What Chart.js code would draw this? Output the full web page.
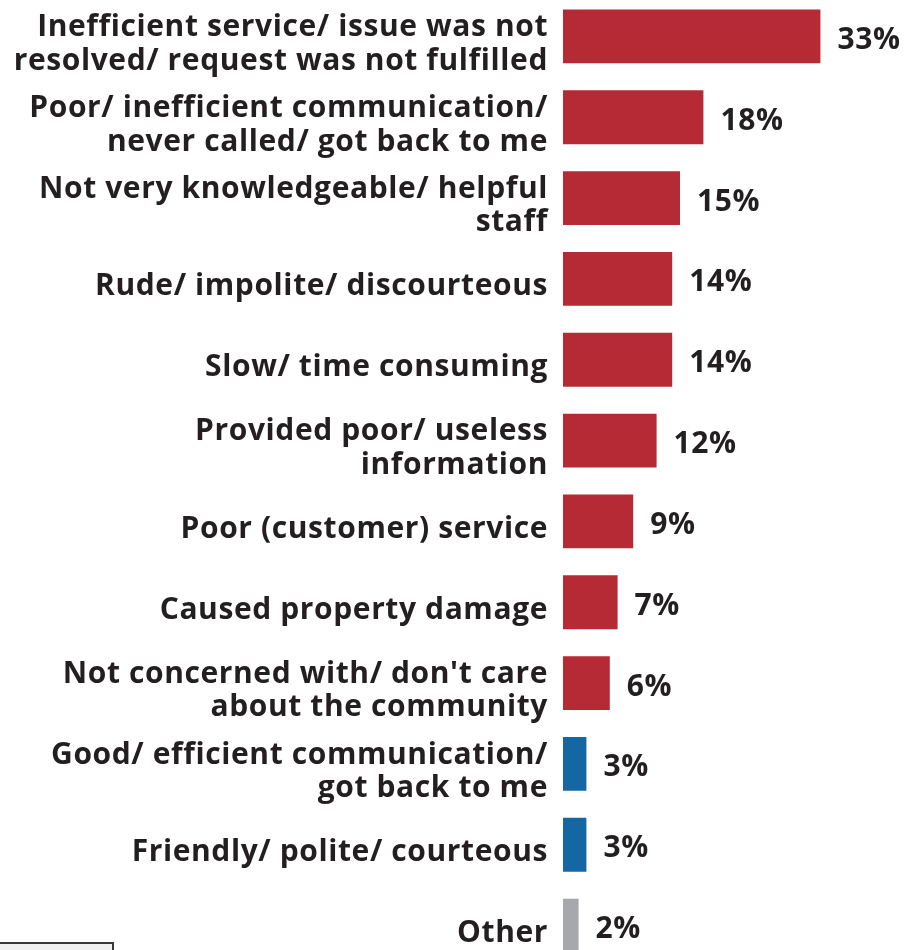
<!DOCTYPE html>
<html>
<head>
<meta charset="utf-8">
<script src="https://cdn.jsdelivr.net/npm/chart.js@4"></script>
<style>
  html, body { margin: 0; padding: 0; background: #fff; overflow: hidden; }
  #wrap { position: relative; width: 923px; height: 950px; overflow: hidden; }
  #wrap canvas { position: absolute; left: 0; top: -4px; }
  #keyBox {
    position: absolute; left: -2px; top: 942px; width: 112px; height: 20px;
    border: 2px solid #3a3a3a; background: #f1f1f1;
  }
</style>
</head>
<body>
<div id="wrap">
  <canvas id="razones" width="923" height="970"></canvas>
  <div id="keyBox"></div>
</div>
<script>
const categorias = [
  ['Inefficient service/ issue was not', 'resolved/ request was not fulfilled'],
  ['Poor/ inefficient communication/', 'never called/ got back to me'],
  ['Not very knowledgeable/ helpful', 'staff'],
  'Rude/ impolite/ discourteous',
  'Slow/ time consuming',
  ['Provided poor/ useless', 'information'],
  'Poor (customer) service',
  'Caused property damage',
  ['Not concerned with/ don\'t care', 'about the community'],
  ['Good/ efficient communication/', 'got back to me'],
  'Friendly/ polite/ courteous',
  'Other'
];
const porcentajes = [33, 18, 15, 14, 14, 12, 9, 7, 6, 3, 3, 2];
// tipo de respuesta: negativa, positiva u otra
const tipos = ['neg', 'neg', 'neg', 'neg', 'neg', 'neg', 'neg', 'neg', 'neg', 'pos', 'pos', 'otro'];

const colores = { neg: '#B52A35', pos: '#1467A3', otro: '#A7A8AC' };
const fuente = '"Open Sans", Lato, sans-serif';
const colorTexto = '#231F20';

// un poco de espacio entre letras para ensanchar el texto
const espaciado = {
  id: 'espaciado',
  beforeUpdate(chart) { chart.ctx.letterSpacing = '0.6px'; },
  beforeDraw(chart) { chart.ctx.letterSpacing = '0.6px'; }
};

const etiquetasValor = {
  id: 'etiquetasValor',
  afterDatasetsDraw(chart) {
    const ctx = chart.ctx;
    const meta = chart.getDatasetMeta(0);
    ctx.save();
    ctx.font = 'bold 30px ' + fuente;
    ctx.fillStyle = colorTexto;
    ctx.textAlign = 'left';
    ctx.textBaseline = 'middle';
    meta.data.forEach((bar, i) => {
      ctx.fillText(porcentajes[i] + '%', bar.x + 17, bar.y + 4);
    });
    ctx.restore();
  }
};

new Chart(document.getElementById('razones'), {
  type: 'bar',
  data: {
    labels: categorias,
    datasets: [{
      data: porcentajes,
      backgroundColor: tipos.map(t => colores[t]),
      borderWidth: 0,
      barPercentage: 0.665,
      categoryPercentage: 1
    }]
  },
  options: {
    indexAxis: 'y',
    responsive: false,
    animation: false,
    layout: { padding: { top: 0, bottom: 0, left: 0, right: 48 } },
    plugins: {
      legend: { display: false },
      tooltip: { enabled: false }
    },
    scales: {
      x: {
        display: false,
        min: 0,
        max: 40
      },
      y: {
        afterFit(scale) {
          // las etiquetas no deben encoger el área de las barras
          scale.width = 563;
          scale.paddingTop = 0;
          scale.paddingBottom = 0;
        },
        grid: { display: false, drawTicks: false, tickLength: 0 },
        border: { display: false },
        ticks: {
          padding: 15,
          labelOffset: 8,
          color: colorTexto,
          autoSkip: false,
          font: { family: fuente, size: 30, weight: 'bold', lineHeight: 1.12 }
        }
      }
    }
  },
  plugins: [espaciado, etiquetasValor]
});
</script>
</body>
</html>
